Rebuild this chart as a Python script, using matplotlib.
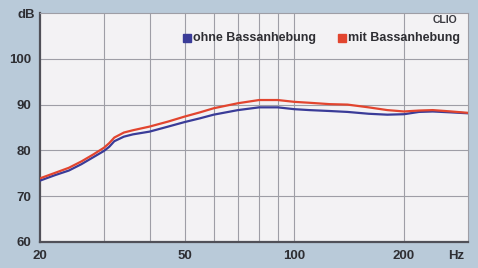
import matplotlib
matplotlib.use("Agg")
import matplotlib.pyplot as plt
from matplotlib.ticker import FixedLocator, NullFormatter, FixedFormatter

plt.rcParams['font.family'] = ['Liberation Sans Narrow', 'Liberation Sans', 'DejaVu Sans']

freq = [20, 22, 24, 26, 28, 30, 31, 32, 34, 36, 40, 45, 50, 55, 60, 70, 80, 90,
        100, 110, 125, 140, 160, 180, 200, 220, 240, 270, 300]
ohne = [73.4, 74.6, 75.6, 77.0, 78.5, 79.9, 80.8, 82.0, 83.0, 83.5, 84.1, 85.2,
        86.2, 87.0, 87.8, 88.8, 89.4, 89.4, 89.0, 88.8, 88.6, 88.4, 88.0, 87.8,
        87.9, 88.4, 88.5, 88.3, 88.1]
mit = [73.9, 75.1, 76.2, 77.6, 79.1, 80.6, 81.6, 82.8, 83.9, 84.4, 85.2, 86.3,
       87.4, 88.3, 89.2, 90.3, 91.0, 91.0, 90.6, 90.4, 90.1, 90.0, 89.4, 88.8,
       88.5, 88.7, 88.8, 88.5, 88.2]

series_names = ["ohne Bassanhebung", "mit Bassanhebung"]
series_colors = ["#3a3c98", "#e2452f"]

grid_x = [30, 40, 50, 60, 70, 80, 90, 100, 200]
x_ticks = [20, 50, 100, 200]
x_labels = ["20", "50", "100", "200"]
y_ticks = [60, 70, 80, 90, 100]
y_labels = ["60", "70", "80", "90", "100"]

bg = "#b9cad9"
fig = plt.figure(figsize=(4.78, 2.68), dpi=100, facecolor=bg)
ax = fig.add_axes([40/478, 26/268, 428/478, 229/268])
ax.set_facecolor("#f3f2f4")
ax.set_xscale("log")
ax.set_xlim(20, 300)
ax.set_ylim(60, 110)

for gx in grid_x:
    ax.axvline(gx, color="#9e9ea6", lw=0.8, zorder=1)
for gy in [70, 80, 90, 100]:
    ax.axhline(gy, color="#9e9ea6", lw=0.8, zorder=1)

ax.plot(freq, ohne, color=series_colors[0], lw=1.6, zorder=3)
ax.plot(freq, mit, color=series_colors[1], lw=1.6, zorder=4)

ax.xaxis.set_major_locator(FixedLocator(x_ticks))
ax.xaxis.set_major_formatter(FixedFormatter(x_labels))
ax.xaxis.set_minor_locator(FixedLocator([]))
ax.xaxis.set_minor_formatter(NullFormatter())
ax.set_yticks(y_ticks)
ax.set_yticklabels(y_labels)
ax.tick_params(length=0, labelsize=9.5, colors="#2e2e33", pad=6)
for lab in ax.get_xticklabels() + ax.get_yticklabels():
    lab.set_fontweight("bold")

for s in ["left", "bottom"]:
    ax.spines[s].set_color("#505058")
    ax.spines[s].set_linewidth(1.6)
for s in ["top", "right"]:
    ax.spines[s].set_color("#9e9ea6")
    ax.spines[s].set_linewidth(0.8)

fig.text(18/478, 1 - 15/268, "dB", fontsize=9.5, fontweight="bold", color="#2e2e33",
         ha="left", va="center")
fig.text(464/478, 1 - 256/268, "Hz", fontsize=9.5, fontweight="bold", color="#2e2e33",
         ha="right", va="center")
fig.text(457/478, 1 - 20/268, "CLIO", fontsize=7.5, fontweight="bold",
         color="#3a3a40", ha="right", va="center")

# legend
leg_x = [183, 338]
for i, (name, col) in enumerate(zip(series_names, series_colors)):
    fig.patches.append(plt.Rectangle((leg_x[i]/478, 1 - 42/268), 8/478, 8/268,
                                     transform=fig.transFigure, color=col, figure=fig))
    fig.text((leg_x[i] + 10)/478, 1 - 38/268, name, fontsize=9, fontweight="bold",
             color="#2e2e33", ha="left", va="center")

fig.savefig("out.png", dpi=100, facecolor=bg)
